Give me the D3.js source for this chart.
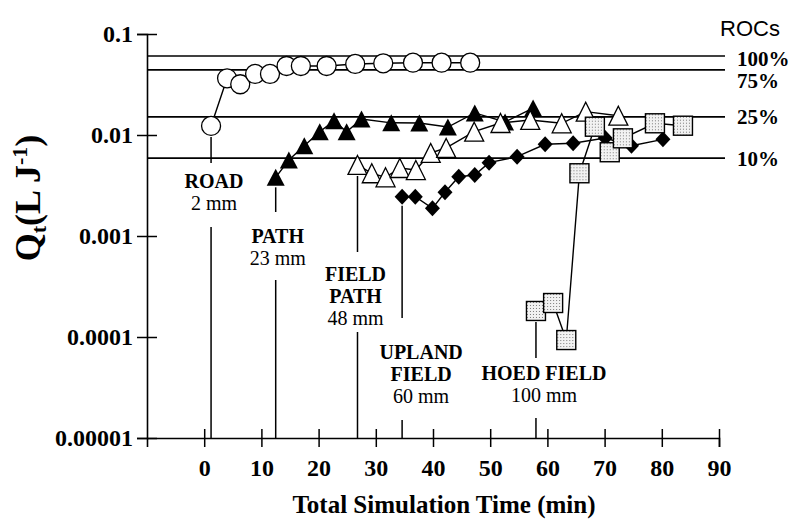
<!DOCTYPE html>
<html>
<head>
<meta charset="utf-8">
<script src="https://cdn.jsdelivr.net/npm/d3@7"></script>
<style>
  body { margin: 0; background: #fff; }
  svg { display: block; }
</style>
</head>
<body>
<div id="chart"></div>
<script>
// ---------------- data ----------------
const xTicks = [0, 10, 20, 30, 40, 50, 60, 70, 80, 90];
const yTicks = [0.1, 0.01, 0.001, 0.0001, 0.00001];
const yTickLabels = ["0.1", "0.01", "0.001", "0.0001", "0.00001"];

const rocLabels = ["100%", "75%", "25%", "10%"];
const rocValues = [0.0605, 0.0441, 0.0151, 0.0059];

// ROAD (open circles)
const roadTime = [1.2, 4.0, 6.3, 8.9, 11.5, 14.4, 16.9, 21.4, 26.4, 31.3, 36.5, 41.5, 46.5];
const roadQ    = [0.0123, 0.0364, 0.0318, 0.0402, 0.0402, 0.0482, 0.0482, 0.0482, 0.0505, 0.0513, 0.052, 0.052, 0.052];

// PATH (filled triangles)
const pathTime = [12.5, 14.8, 17.5, 20.2, 22.7, 24.9, 27.5, 32.7, 37.6, 42.6, 47.3, 52.6, 57.5];
const pathQ    = [0.00381, 0.00566, 0.00783, 0.01078, 0.01387, 0.01078, 0.0144, 0.0132, 0.01315, 0.0120, 0.01653, 0.01346, 0.0185];

// FIELD PATH (open triangles)
const fieldPathTime = [26.8, 29.3, 31.7, 34.2, 37.0, 39.6, 42.3, 47.2, 51.8, 57.0, 62.5, 66.7, 72.4];
const fieldPathQ    = [0.00505, 0.00418, 0.00381, 0.00471, 0.0045, 0.00664, 0.00744, 0.01078, 0.01315, 0.01409, 0.01306, 0.01702, 0.01552];

// UPLAND FIELD (filled diamonds)
const uplandTime = [34.6, 36.9, 39.9, 42.1, 44.5, 47.3, 49.8, 54.7, 59.6, 64.5, 70.1, 74.7, 80.2];
const uplandQ    = [0.00245, 0.00245, 0.00188, 0.00271, 0.00386, 0.00402, 0.00532, 0.0061, 0.00809, 0.00828, 0.00933, 0.00783, 0.00906];

// HOED FIELD (stippled squares)
const hoedTime = [58.0, 61.0, 63.3, 65.6, 68.3, 70.9, 73.2, 78.8, 83.7];
const hoedQ    = [0.000181, 0.000217, 0.0000933, 0.00418, 0.01208, 0.00675, 0.00927, 0.01306, 0.01236];

const siteNames  = [["ROAD"], ["PATH"], ["FIELD", "PATH"], ["UPLAND", "FIELD"], ["HOED FIELD"]];
const siteDepths = ["2 mm", "23 mm", "48 mm", "60 mm", "100 mm"];

// ---------------- layout ----------------
const W = 791, H = 523;
const serif = "'Liberation Serif', 'Times New Roman', serif";
const sans = "'Liberation Sans', Arial, sans-serif";

const svg = d3.select("#chart").append("svg")
  .attr("width", W).attr("height", H)
  .attr("viewBox", `0 0 ${W} ${H}`);

const x = d3.scaleLinear().domain([-10, 90]).range([147, 719]);
const y = d3.scaleLog().domain([0.00001, 0.1]).range([438, 34]);

const defs = svg.append("defs");
const pat = defs.append("pattern").attr("id", "stipple")
  .attr("width", 3).attr("height", 3).attr("patternUnits", "userSpaceOnUse");
pat.append("rect").attr("width", 3).attr("height", 3).attr("fill", "#f2f2f2");
pat.append("rect").attr("width", 1).attr("height", 1).attr("fill", "#7a7a7a");

// ROC reference lines
const rocOffset = [3, 11, 0, 1];
svg.append("g").selectAll("line").data(rocValues).join("line")
  .attr("x1", x(-10)).attr("x2", 725)
  .attr("y1", d => y(d)).attr("y2", d => y(d))
  .attr("stroke", "#000").attr("stroke-width", 1.6);

svg.append("g").selectAll("text").data(rocLabels).join("text")
  .attr("x", 737).attr("y", (d, i) => y(rocValues[i]) + rocOffset[i])
  .attr("dy", "0.35em")
  .attr("font-family", serif).attr("font-weight", "bold").attr("font-size", 21)
  .text(d => d);

svg.append("text").attr("x", 720).attr("y", 28).attr("dy", "0.35em")
  .attr("font-family", sans).attr("font-size", 22).text("ROCs");

// axes
const xAxis = svg.append("g")
  .attr("transform", `translate(0,${y(0.00001)})`)
  .call(d3.axisBottom(x).tickValues(xTicks).tickSizeOuter(0).tickSize(9));
xAxis.selectAll(".tick line").attr("y1", -9).attr("y2", 9).attr("stroke-width", 1.5);
xAxis.selectAll(".tick text").attr("y", 38).attr("dy", null)
  .attr("font-family", serif).attr("font-weight", "bold").attr("font-size", 24).attr("fill", "#000");
xAxis.select(".domain").attr("stroke-width", 1.6);

const yAxis = svg.append("g")
  .attr("transform", `translate(${x(-10)},0)`)
  .call(d3.axisLeft(y).tickValues(yTicks).tickFormat((d, i) => yTickLabels[i]).tickSizeOuter(0).tickSize(10));
yAxis.selectAll(".tick line").attr("x1", -10).attr("x2", 10).attr("stroke-width", 1.5);
yAxis.selectAll(".tick text").attr("x", -14)
  .attr("font-family", serif).attr("font-weight", "bold").attr("font-size", 24).attr("fill", "#000");
yAxis.select(".domain").attr("stroke-width", 1.6);

// axis titles
svg.append("text")
  .attr("x", 444).attr("y", 513).attr("text-anchor", "middle")
  .attr("font-family", serif).attr("font-weight", "bold").attr("font-size", 25)
  .text("Total Simulation Time (min)");

const yTitle = svg.append("text")
  .attr("transform", "translate(40,198) rotate(-90)")
  .attr("text-anchor", "middle")
  .attr("font-family", serif).attr("font-weight", "bold").attr("font-size", 36);
yTitle.append("tspan").text("Q");
yTitle.append("tspan").attr("font-size", 22).attr("dy", 6).text("t");
yTitle.append("tspan").attr("dy", -6).text("(L J");
yTitle.append("tspan").attr("font-size", 22).attr("dy", -13).text("-1");
yTitle.append("tspan").attr("dy", 13).text(")");

// site annotations: leader lines + labels
const series = [
  {t: roadTime, q: roadQ, half: 10},
  {t: pathTime, q: pathQ, half: 9},
  {t: fieldPathTime, q: fieldPathQ, half: 10},
  {t: uplandTime, q: uplandQ, half: 8},
  {t: hoedTime, q: hoedQ, half: 10}
];
const annot = [
  {seg1End: 163, labelY: 181, seg2Start: 227, dx: 3},
  {seg1End: 212, labelY: 236, seg2Start: 280, dx: 2},
  {seg1End: 252, labelY: 274, seg2Start: 332, dx: -2},
  {seg1End: 318, labelY: 352, seg2Start: 420, dx: 19},
  {seg1End: 358, labelY: 373, seg2Start: 418, dx: 8}
];
const lineH = 22;
const ann = svg.append("g");
annot.forEach((a, i) => {
  const s = series[i];
  const lx = x(s.t[0]);
  ann.append("line").attr("x1", lx).attr("x2", lx)
    .attr("y1", y(s.q[0]) + s.half + 1).attr("y2", a.seg1End)
    .attr("stroke", "#000").attr("stroke-width", 1.5);
  ann.append("line").attr("x1", lx).attr("x2", lx)
    .attr("y1", a.seg2Start).attr("y2", y(0.00001))
    .attr("stroke", "#000").attr("stroke-width", 1.5);
  const lines = siteNames[i];
  lines.forEach((nm, j) => {
    ann.append("text").attr("x", lx + a.dx).attr("y", a.labelY + j * lineH)
      .attr("dy", "0.35em").attr("text-anchor", "middle")
      .attr("font-family", serif).attr("font-weight", "bold").attr("font-size", 20)
      .text(nm);
  });
  ann.append("text").attr("x", lx + a.dx).attr("y", a.labelY + lines.length * lineH)
    .attr("dy", "0.35em").attr("text-anchor", "middle")
    .attr("font-family", serif).attr("font-size", 20)
    .text(siteDepths[i]);
});

// series
const line = d3.line().x(d => x(d[0])).y(d => y(d[1]));
function drawSeries(t, q) {
  const pts = t.map((d, i) => [d, q[i]]);
  const g = svg.append("g");
  g.append("path").datum(pts).attr("d", line)
    .attr("fill", "none").attr("stroke", "#000").attr("stroke-width", 1.4);
  return g.selectAll(".m").data(pts).join("g").attr("class", "m")
    .attr("transform", d => `translate(${x(d[0])},${y(d[1])})`);
}
const tri = (w, h) => `M0,${-h / 2}L${w / 2},${h / 2}L${-w / 2},${h / 2}Z`;
const diamond = (w, h) => `M0,${-h}L${w},0L0,${h}L${-w},0Z`;

drawSeries(roadTime, roadQ).append("circle").attr("r", 9.5)
  .attr("fill", "#fff").attr("stroke", "#000").attr("stroke-width", 1.3);

drawSeries(pathTime, pathQ).append("path").attr("d", tri(18, 17)).attr("fill", "#000");

drawSeries(fieldPathTime, fieldPathQ).append("path").attr("d", tri(19, 19))
  .attr("fill", "#fff").attr("stroke", "#000").attr("stroke-width", 1.3);

drawSeries(uplandTime, uplandQ).append("path").attr("d", diamond(7.5, 8)).attr("fill", "#000");

drawSeries(hoedTime, hoedQ).append("rect")
  .attr("x", -9.5).attr("y", -9.5).attr("width", 19).attr("height", 19)
  .attr("fill", "url(#stipple)").attr("stroke", "#000").attr("stroke-width", 1.4);
</script>
</body>
</html>
